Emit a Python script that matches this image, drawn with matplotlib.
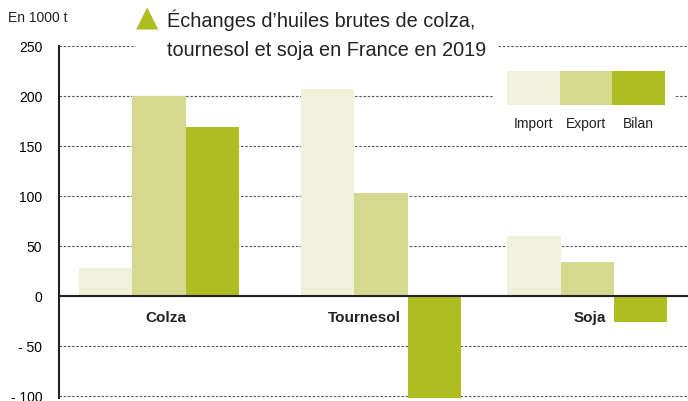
import matplotlib
matplotlib.use("Agg")
import matplotlib.pyplot as plt
from matplotlib.patches import Rectangle

plt.rcParams['font.family'] = ['Liberation Sans', 'DejaVu Sans']

# data (1000 t)
cultures = ['Colza', 'Tournesol', 'Soja']
imports = [28, 207, 60]
exports = [200, 103, 34]
bilan = [169, -104, -26]
series_names = ['Import', 'Export', 'Bilan']
yticks = [-100, -50, 0, 50, 100, 150, 200, 250]
ytick_labels = ['- 100', '- 50', '0', '50', '100', '150', '200', '250']

colors = ['#eff1da', '#d4d990', '#aebd22']
group_pos = [0, 1, 1.93]
w = 0.24

fig = plt.figure(figsize=(6.88, 4.02), dpi=100)
ax = fig.add_axes([59/688, 3/402, 629/688, 352/402])
ax.set_zorder(0)

for k, vals in enumerate([imports, exports, bilan]):
    xs = [g + (k - 1) * w for g in group_pos]
    ax.bar(xs, vals, width=w, color=colors[k], zorder=2)

x0 = group_pos[0] - 1.5*w - 0.09
ax.set_xlim(x0, x0 + 629/222)
ax.set_ylim(-102, 250)
ax.set_yticks(yticks)
ax.set_yticklabels(ytick_labels, fontsize=10)
ax.tick_params(axis='y', length=0, pad=12)
ax.tick_params(axis='x', length=0, labelbottom=False)
for s in ['top', 'right', 'bottom']:
    ax.spines[s].set_visible(False)
ax.spines['left'].set_linewidth(1.5)
ax.spines['left'].set_color('#222222')
ax.grid(axis='y', color='#555555', linestyle=(0, (2.2, 1.6)), linewidth=0.8, zorder=0)
ax.axhline(0, color='#222222', linewidth=1.5, zorder=3)

# category labels under the zero line
ax.text(group_pos[0] + 0.03, -14, cultures[0], ha='center', va='top', fontsize=11, fontweight='bold', color='#222222')
ax.text(group_pos[1] + 0.09, -14, cultures[1], ha='right', va='top', fontsize=11, fontweight='bold', color='#222222')
ax.text(group_pos[2] + 0.01, -14, cultures[2], ha='center', va='top', fontsize=11, fontweight='bold', color='#222222')

# white boxes hiding the grid behind title and legend
fig.patches.append(Rectangle((136/688, 1 - 62/402), 361/688, 62/402, transform=fig.transFigure, color='white', zorder=1))
fig.patches.append(Rectangle((494/688, 1 - 132/402), 180/688, 70/402, transform=fig.transFigure, color='white', zorder=1))

fig.text(8/688, 1 - 18/402, 'En 1000 t', fontsize=10, va='center', ha='left', color='#222222', zorder=4)
fig.text(147/688, 1 - 18/402, '\u25B2', fontsize=21, va='center', ha='center', color=colors[2], family='DejaVu Sans', zorder=4)
fig.text(167/688, 1 - 20/402, '\u00C9changes d\u2019huiles brutes de colza,', fontsize=14.3, va='center', ha='left', color='#222222', zorder=4)
fig.text(167/688, 1 - 50/402, 'tournesol et soja en France en 2019', fontsize=14.3, va='center', ha='left', color='#222222', zorder=4)

# legend
lax = fig.add_axes([507/688, 1 - 106/402, 158/688, 34/402])
lax.set_zorder(3)
lax.bar([0, 1, 2], [1, 1, 1], width=1, color=colors)
lax.set_xlim(-0.5, 2.5)
lax.set_ylim(0, 1)
lax.axis('off')
for i, name in enumerate(series_names):
    lax.text(i, -0.52, name, ha='center', va='center', fontsize=10, color='#222222', clip_on=False)

fig.savefig('out.png', dpi=100)
